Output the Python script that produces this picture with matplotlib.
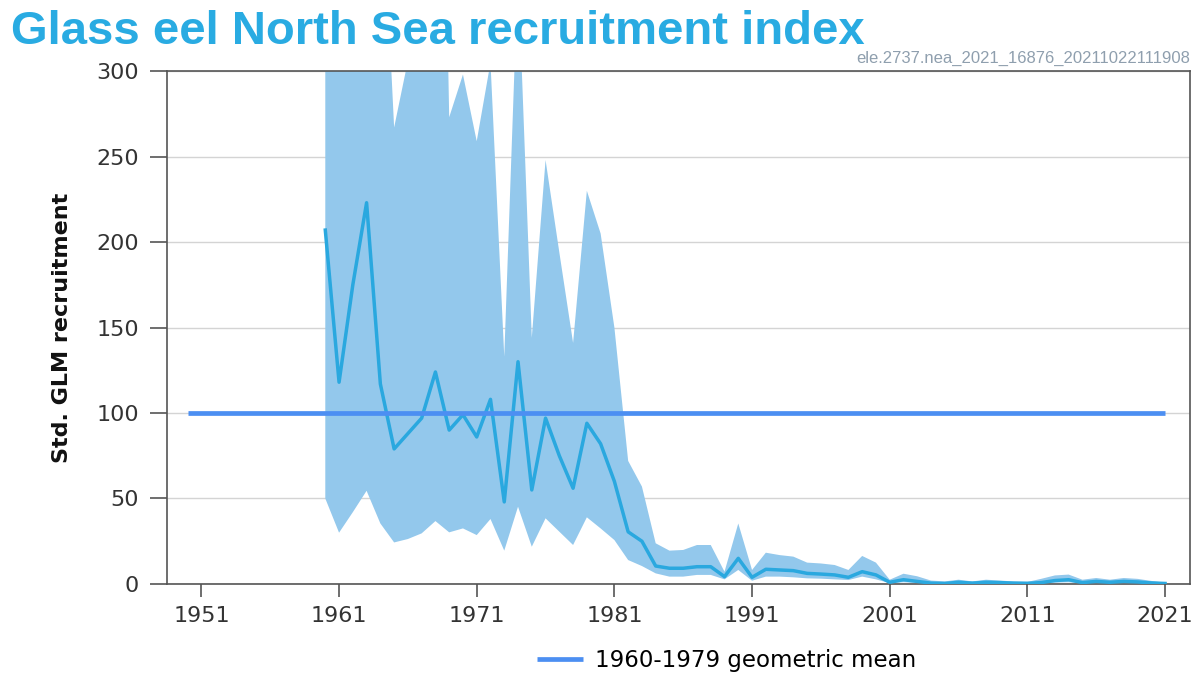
import matplotlib.pyplot as plt
import numpy as np

# Glass eel North Sea recruitment index
years = list(range(1960, 2022))

index_values = [
    207, 118, 175, 223, 117, 79, 88, 97, 124, 90,
    99, 86, 108, 48, 130, 55, 97, 75, 56, 94,
    82, 60, 30.5, 25, 10.5, 9.2, 9.2, 10.1, 10.1, 4.3,
    15, 3.9, 8.6, 8.2, 7.8, 6.2, 5.8, 5.3, 3.9, 7.2,
    5.3, 1.0, 2.5, 1.5, 0.5, 0.3, 1.0, 0.5, 1.0, 0.8,
    0.5, 0.4, 0.8, 2.0, 2.5, 0.8, 1.5, 1.0, 1.5, 1.2,
    0.6, 0.3,
]
upper_values = [
    450, 400, 480, 520, 432, 267, 306, 450, 700, 273,
    298, 259, 305, 133, 360, 144, 248, 194, 141, 230,
    205, 150, 72, 57, 23.8, 19.5, 19.9, 22.8, 22.8, 7.2,
    35.4, 8.2, 18.3, 16.9, 16.0, 12.5, 12.0, 11.1, 8.2, 16.4,
    12.5, 2.5, 6.0, 4.5, 2.0, 1.5, 2.5, 1.5, 2.5, 2.0,
    1.5, 1.2, 3.0, 5.0, 5.5, 2.5, 3.5, 2.5, 3.5, 3.0,
    1.8, 0.8,
]
lower_values = [
    50, 30, 42, 54.5, 35.4, 24.3, 26.3, 29.6, 36.8, 30.2,
    32.5, 28.6, 38, 19.5, 45.2, 21.8, 38.4, 30.6, 22.8, 39,
    32.5, 25.7, 14, 10.5, 6.2, 4.3, 4.3, 5.3, 5.3, 2.7,
    8.2, 1.9, 4.3, 4.3, 3.9, 3.3, 3.1, 2.7, 2.3, 4.3,
    2.7, 0.5, 1.0, 0.6, 0.2, 0.1, 0.4, 0.2, 0.4, 0.3,
    0.2, 0.1, 0.3, 0.8, 1.0, 0.3, 0.6, 0.4, 0.6, 0.5,
    0.2, 0.1,
]

mean_years = [1950, 2021]
mean_value = 100

xtick_years = [1951, 1961, 1971, 1981, 1991, 2001, 2011, 2021]
ytick_values = [0, 50, 100, 150, 200, 250, 300]

line_color = "#2aa8df"
band_color = "#93c8ec"
mean_color = "#4c8ff2"
title_color = "#29abe2"

fig = plt.figure(figsize=(11.97, 6.77), dpi=100)
ax = fig.add_axes([0.1395, 0.1374, 0.8545, 0.7576])

ax.fill_between(years, lower_values, upper_values, color=band_color, linewidth=0, zorder=2)
ax.plot(years, index_values, color=line_color, linewidth=2.5, zorder=3)
ax.plot(mean_years, [mean_value, mean_value], color=mean_color, linewidth=3.4,
        solid_capstyle="butt", zorder=4, label="1960-1979 geometric mean")

ax.set_xlim(1948.5, 2022.8)
ax.set_ylim(0, 300)
ax.set_xticks(xtick_years)
ax.set_yticks(ytick_values)
ax.yaxis.grid(True, color="#d4d4d4", linewidth=1.0, zorder=0)
ax.set_axisbelow(True)

for side in ["left", "bottom", "top", "right"]:
    ax.spines[side].set_color("#555555")
    ax.spines[side].set_linewidth(1.2)
ax.tick_params(axis="both", width=1.2, color="#555555",
               labelsize=16, labelcolor="#333333")
ax.tick_params(axis="y", length=12, pad=8)
ax.tick_params(axis="x", length=9, pad=7)

ax.set_ylabel("Std. GLM recruitment", fontsize=16, fontweight="bold", color="#111111", labelpad=18)

fig.text(0.009, 0.935, "Glass eel North Sea recruitment index",
         family=["Liberation Sans", "DejaVu Sans"], fontweight="bold",
         fontsize=34, color=title_color, ha="left", va="baseline")
fig.text(0.994, 0.907, "ele.2737.nea_2021_16876_20211022111908",
         family=["Liberation Sans", "DejaVu Sans"], fontsize=12,
         color="#8f9fae", ha="right", va="baseline")

fig.legend(loc="center", bbox_to_anchor=(0.607, 0.024), frameon=False,
           fontsize=16.5, handlelength=2.0, handletextpad=0.5)

fig.savefig("out.png", dpi=100)
